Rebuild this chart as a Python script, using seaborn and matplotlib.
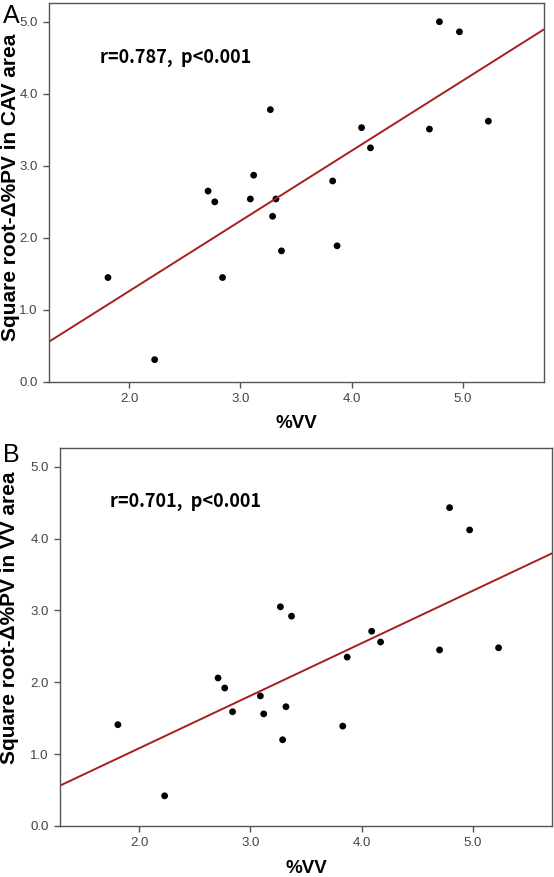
import matplotlib
matplotlib.use("Agg")
import matplotlib.pyplot as plt
import seaborn as sns
import pandas as pd

sns.set_theme(style="white")
plt.rcParams['font.family'] = ['Liberation Sans', 'DejaVu Sans']

# Data
vv = [1.81, 2.23, 2.71, 2.77, 2.84, 3.09, 3.12, 3.27, 3.29, 3.32, 3.37,
      3.83, 3.87, 4.09, 4.17, 4.70, 4.79, 4.97, 5.23]
pv_cav = [1.45, 0.31, 2.65, 2.50, 1.45, 2.54, 2.87, 3.78, 2.30, 2.54, 1.82,
          2.79, 1.89, 3.53, 3.25, 3.51, 5.00, 4.86, 3.62]
pv_vv = [1.41, 0.42, 2.06, 1.92, 1.59, 1.81, 1.56, 3.05, 1.20, 1.66, 2.92,
         1.39, 2.35, 2.71, 2.56, 2.45, 4.43, 4.12, 2.48]
ylabels = ["Square root-\u0394%PV in CAV area", "Square root-\u0394%PV in VV area"]
annots = ["r=0.787,  p<0.001", "r=0.701,  p<0.001"]
panel_letters = ["A", "B"]
xticks = [2.0, 3.0, 4.0, 5.0]
yticks = [0.0, 1.0, 2.0, 3.0, 4.0, 5.0]

W, H = 554, 877
fig = plt.figure(figsize=(W / 100, H / 100), dpi=100)

def rect(l, t, r, b):
    return [l / W, 1 - b / H, (r - l) / W, (b - t) / H]

axA = fig.add_axes(rect(49, 3, 544, 382))
axB = fig.add_axes(rect(60, 448, 552, 826))

line_color = "#a61e1e"
spine_color = "#555555"
tick_color = "#555555"

configs = [
    (axA, pv_cav, (1.28, 5.73), (-0.058, 0.515), -0.087, 23),
    (axB, pv_vv, (1.29, 5.71), (-0.083, 0.55), -0.090, 462),
]

for i, (ax, yv, xl, ylab_pos, xlab_y, letter_y) in enumerate(configs):
    df = pd.DataFrame({"vv": vv, "pv": yv})
    ax.set_xlim(*xl)
    ax.set_ylim(0, 5.26)
    sns.regplot(data=df, x="vv", y="pv", ax=ax, ci=None, truncate=False,
                scatter_kws=dict(s=24, color="black", edgecolor="none", alpha=1),
                line_kws=dict(color=line_color, lw=1.4))
    ax.set_xlim(*xl)
    ax.set_ylim(0, 5.26)
    ax.set_xticks(xticks)
    ax.set_yticks(yticks)
    ax.set_xticklabels([f"{t:.1f}" for t in xticks])
    ax.set_yticklabels([f"{t:.1f}" for t in yticks])
    ax.tick_params(axis="both", which="both", direction="out", length=4, width=1,
                   colors=tick_color, labelsize=9.5, labelcolor="#444444",
                   bottom=True, left=True, top=False, right=False, pad=4)
    for s in ax.spines.values():
        s.set_visible(True)
        s.set_color(spine_color)
        s.set_linewidth(1.0)
    ax.set_xlabel("%VV", fontsize=13.5, fontweight="bold", color="black")
    ax.set_ylabel(ylabels[i], fontsize=15, fontweight="bold", color="black")
    ax.xaxis.set_label_coords(0.5, xlab_y)
    ax.yaxis.set_label_coords(ylab_pos[0], ylab_pos[1])
    ax.text(1.74, 4.51, annots[i], fontsize=13, fontweight="bold",
            ha="left", va="center", color="black",
            family=["Noto Sans CJK SC", "DejaVu Sans"])
    ax.grid(False)
    fig.text(3 / W, 1 - letter_y / H, panel_letters[i], fontsize=18,
             ha="left", va="baseline", color="black")

fig.savefig("out.png", dpi=100)
